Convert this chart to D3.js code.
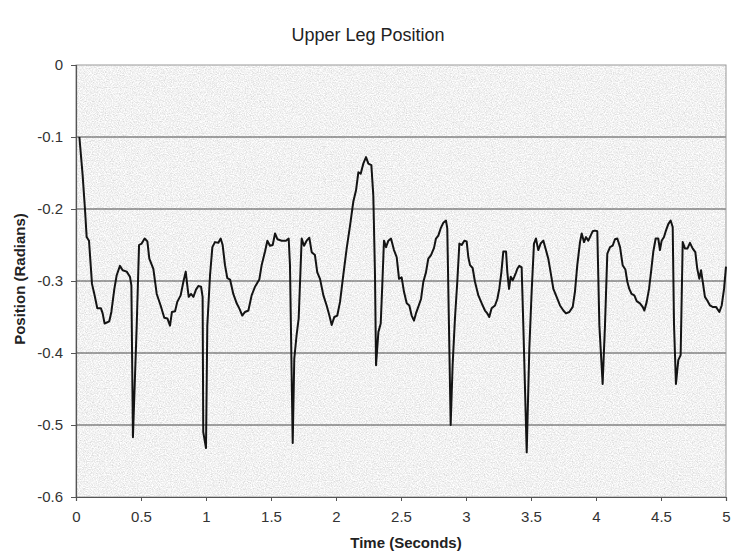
<!DOCTYPE html>
<html>
<head>
<meta charset="utf-8">
<script src="https://cdn.jsdelivr.net/npm/d3@7"></script>
<style>
  html, body { margin: 0; padding: 0; background: #ffffff; }
  svg { display: block; font-family: "Liberation Sans", Arial, sans-serif; }
</style>
</head>
<body>
<svg id="chart" width="736" height="556"></svg>
<script>
// ---- data ----
const timeSeconds = [
  0.026,0.051,0.069,0.082,0.100,0.113,0.123,0.141,0.164,0.192,0.205,0.220,0.256,0.272,0.295,0.313,0.338,0.359,0.390,0.415,
  0.426,0.438,0.467,0.485,0.505,0.528,0.549,0.564,0.595,0.621,0.651,0.679,0.703,0.723,0.738,0.762,0.779,0.805,0.826,0.844,
  0.856,0.867,0.885,0.903,0.923,0.941,0.962,0.974,0.979,1.000,1.010,1.031,1.049,1.069,1.095,1.113,1.128,1.146,1.164,1.185,
  1.210,1.236,1.256,1.279,1.300,1.326,1.351,1.377,1.410,1.428,1.454,1.472,1.492,1.513,1.531,1.549,1.582,1.615,1.636,1.646,
  1.667,1.679,1.697,1.713,1.736,1.754,1.774,1.795,1.813,1.838,1.856,1.877,1.903,1.928,1.949,1.967,1.987,2.010,2.031,2.056,
  2.082,2.108,2.133,2.154,2.172,2.190,2.210,2.231,2.249,2.272,2.287,2.300,2.308,2.326,2.344,2.356,2.369,2.385,2.403,2.423,
  2.446,2.467,2.485,2.505,2.523,2.544,2.564,2.582,2.600,2.615,2.633,2.654,2.672,2.692,2.710,2.731,2.754,2.769,2.787,2.805,
  2.826,2.846,2.856,2.869,2.882,2.897,2.915,2.933,2.949,2.967,2.987,3.005,3.018,3.031,3.051,3.069,3.095,3.121,3.146,3.164,
  3.179,3.197,3.223,3.241,3.256,3.272,3.287,3.308,3.318,3.331,3.344,3.359,3.372,3.385,3.395,3.410,3.428,3.441,3.467,3.487,
  3.505,3.523,3.538,3.556,3.574,3.595,3.615,3.633,3.651,3.672,3.697,3.723,3.749,3.769,3.795,3.821,3.838,3.856,3.877,3.890,
  3.908,3.923,3.941,3.959,3.974,3.992,4.010,4.026,4.051,4.069,4.087,4.108,4.128,4.146,4.164,4.185,4.205,4.226,4.241,4.256,
  4.274,4.295,4.313,4.338,4.359,4.372,4.390,4.408,4.423,4.441,4.459,4.479,4.492,4.505,4.523,4.538,4.556,4.574,4.590,4.600,
  4.615,4.633,4.651,4.667,4.685,4.703,4.723,4.744,4.764,4.779,4.795,4.808,4.821,4.838,4.856,4.877,4.897,4.923,4.949,4.967,
  4.985,5.000
];
const positionRadians = [
  -0.100,-0.153,-0.200,-0.239,-0.244,-0.278,-0.304,-0.318,-0.338,-0.338,-0.345,-0.359,-0.356,-0.343,-0.311,-0.292,-0.279,-0.285,-0.287,-0.294,
  -0.306,-0.517,-0.362,-0.250,-0.248,-0.241,-0.245,-0.269,-0.283,-0.318,-0.334,-0.351,-0.352,-0.362,-0.343,-0.342,-0.329,-0.320,-0.301,-0.287,
  -0.306,-0.322,-0.318,-0.322,-0.312,-0.307,-0.308,-0.322,-0.510,-0.532,-0.362,-0.292,-0.253,-0.246,-0.247,-0.241,-0.250,-0.278,-0.296,-0.298,
  -0.318,-0.331,-0.338,-0.348,-0.343,-0.341,-0.320,-0.308,-0.298,-0.278,-0.259,-0.244,-0.251,-0.250,-0.234,-0.242,-0.244,-0.244,-0.241,-0.278,
  -0.525,-0.408,-0.375,-0.352,-0.241,-0.251,-0.244,-0.240,-0.260,-0.264,-0.288,-0.297,-0.320,-0.334,-0.348,-0.361,-0.350,-0.348,-0.329,-0.292,
  -0.255,-0.223,-0.190,-0.174,-0.149,-0.151,-0.137,-0.128,-0.137,-0.139,-0.181,-0.292,-0.417,-0.371,-0.359,-0.306,-0.244,-0.253,-0.244,-0.241,
  -0.257,-0.267,-0.297,-0.295,-0.315,-0.331,-0.334,-0.348,-0.355,-0.345,-0.336,-0.325,-0.301,-0.288,-0.269,-0.264,-0.254,-0.241,-0.237,-0.227,
  -0.219,-0.216,-0.227,-0.362,-0.500,-0.417,-0.352,-0.301,-0.248,-0.250,-0.244,-0.245,-0.267,-0.278,-0.282,-0.301,-0.320,-0.331,-0.341,-0.345,
  -0.350,-0.338,-0.334,-0.325,-0.311,-0.288,-0.259,-0.259,-0.288,-0.311,-0.294,-0.299,-0.294,-0.288,-0.283,-0.279,-0.281,-0.362,-0.538,-0.394,
  -0.315,-0.248,-0.241,-0.257,-0.248,-0.244,-0.257,-0.269,-0.288,-0.311,-0.322,-0.334,-0.341,-0.345,-0.343,-0.336,-0.315,-0.278,-0.246,-0.234,
  -0.246,-0.239,-0.244,-0.237,-0.231,-0.230,-0.231,-0.362,-0.443,-0.362,-0.262,-0.253,-0.251,-0.242,-0.241,-0.253,-0.278,-0.284,-0.301,-0.311,
  -0.318,-0.320,-0.328,-0.331,-0.336,-0.341,-0.329,-0.311,-0.288,-0.259,-0.241,-0.241,-0.257,-0.244,-0.239,-0.230,-0.221,-0.216,-0.225,-0.360,
  -0.443,-0.410,-0.403,-0.246,-0.255,-0.255,-0.247,-0.255,-0.260,-0.283,-0.297,-0.285,-0.301,-0.322,-0.327,-0.334,-0.336,-0.336,-0.343,-0.334,
  -0.311,-0.280
];
const xTickValues = [0, 0.5, 1, 1.5, 2, 2.5, 3, 3.5, 4, 4.5, 5];
const yTickValues = [0, -0.1, -0.2, -0.3, -0.4, -0.5, -0.6];
const chartTitle = "Upper Leg Position";
const xTitle = "Time (Seconds)";
const yTitle = "Position (Radians)";

// ---- layout ----
const W = 736, H = 556;
const margin = { top: 65, right: 10, bottom: 59, left: 76 };
const iw = W - margin.left - margin.right;
const ih = H - margin.top - margin.bottom;

const svg = d3.select("#chart");
const defs = svg.append("defs");
const filt = defs.append("filter").attr("id", "grain")
  .attr("x", 0).attr("y", 0).attr("width", 1).attr("height", 1);
filt.append("feTurbulence").attr("type", "fractalNoise")
  .attr("baseFrequency", 0.85).attr("numOctaves", 3).attr("seed", 7).attr("result", "n");
filt.append("feColorMatrix").attr("in", "n").attr("type", "matrix")
  .attr("values", "0.55 0 0 0 0.61  0.55 0 0 0 0.61  0.55 0 0 0 0.61  0 0 0 0 1");

const x = d3.scaleLinear().domain([0, 5]).range([0, iw]);
const y = d3.scaleLinear().domain([-0.6, 0]).range([ih, 0]);

const g = svg.append("g").attr("transform", `translate(${margin.left},${margin.top})`);

// plot background (grainy gray)
g.append("rect").attr("width", iw).attr("height", ih).attr("fill", "#e0e0e0");
g.append("rect").attr("width", iw).attr("height", ih).attr("filter", "url(#grain)");

// gridlines
g.append("g").selectAll("line")
  .data(yTickValues.filter(d => d !== 0 && d !== -0.6))
  .join("line")
  .attr("x1", 0).attr("x2", iw)
  .attr("y1", d => y(d)).attr("y2", d => y(d))
  .attr("stroke", "#4a4a4a").attr("stroke-width", 1);

// plot border
g.append("rect").attr("width", iw).attr("height", ih)
  .attr("fill", "none").attr("stroke", "#9a9a9a").attr("stroke-width", 1);

// axes
const yAxis = g.append("g")
  .call(d3.axisLeft(y).tickValues(yTickValues).tickSize(5).tickPadding(8)
    .tickFormat(d => d === 0 ? "0" : d3.format(".1f")(d).replace("−", "-")));
const xAxis = g.append("g").attr("transform", `translate(0,${ih})`)
  .call(d3.axisBottom(x).tickValues(xTickValues).tickSize(4).tickPadding(10)
    .tickFormat(d => String(d)));
[yAxis, xAxis].forEach(a => {
  a.select(".domain").attr("stroke", "#555").attr("stroke-width", 1.2);
  a.selectAll(".tick line").attr("stroke", "#555");
  a.selectAll(".tick text").attr("fill", "#333").attr("font-size", 15)
    .attr("font-family", "'Liberation Sans', Arial, sans-serif");
});

// data line
const pts = timeSeconds.map((t, i) => [t, positionRadians[i]]);
g.append("path").datum(pts)
  .attr("fill", "none").attr("stroke", "#141414").attr("stroke-width", 2)
  .attr("stroke-linejoin", "round")
  .attr("d", d3.line().x(d => x(d[0])).y(d => y(d[1])));

// titles
svg.append("text").attr("x", margin.left + iw / 2 - 33).attr("y", 41)
  .attr("text-anchor", "middle").attr("font-size", 18).attr("fill", "#222")
  .text(chartTitle);
svg.append("text").attr("x", margin.left + iw / 2 + 5).attr("y", 548)
  .attr("text-anchor", "middle").attr("font-size", 15).attr("font-weight", "bold").attr("fill", "#222")
  .text(xTitle);
svg.append("text").attr("transform", `translate(25,${margin.top + ih / 2 - 2}) rotate(-90)`)
  .attr("text-anchor", "middle").attr("font-size", 15).attr("font-weight", "bold").attr("fill", "#222")
  .text(yTitle);
</script>
</body>
</html>
